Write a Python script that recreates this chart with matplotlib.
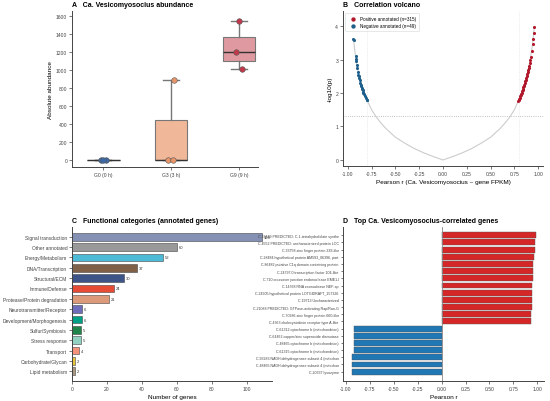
import matplotlib
matplotlib.use("Agg")
import matplotlib.pyplot as plt
import numpy as np

plt.rcParams['font.family'] = ['Liberation Sans', 'DejaVu Sans']
plt.rcParams['axes.linewidth'] = 0.7
plt.rcParams['axes.edgecolor'] = '#444444'
plt.rcParams['xtick.major.width'] = 0.5
plt.rcParams['ytick.major.width'] = 0.5
plt.rcParams['xtick.major.size'] = 2
plt.rcParams['ytick.major.size'] = 2
plt.rcParams['xtick.major.pad'] = 1.5
plt.rcParams['ytick.major.pad'] = 1.5
plt.rcParams['xtick.color'] = '#444444'
plt.rcParams['ytick.color'] = '#444444'

# ---- Panel A data: abundance per group
groups = ['G0 (0 h)', 'G3 (3 h)', 'G9 (9 h)']
abund = [[0, 0, 0], [0, 0, 890], [1010, 1200, 1550]]
jitter = [[-0.04, 0.04, 0.0], [-0.05, 0.03, 0.04], [0.05, -0.05, 0.0]]
box_colors = ['#3d6aa6', '#f0b899', '#de9aa0']
pt_colors = ['#3d6aa6', '#e8956a', '#c0394b']

# ---- Panel B data: volcano
curve_r = [-0.94, -0.92, -0.90, -0.85, -0.80, -0.75, -0.70, -0.65, -0.60, -0.50,
           -0.40, -0.30, -0.20, -0.10, 0.0, 0.10, 0.20, 0.30, 0.40, 0.50, 0.60,
           0.65, 0.70, 0.75, 0.80, 0.85, 0.90, 0.92, 0.94, 0.958]
curve_y = [3.60, 3.12, 2.75, 2.12, 1.80, 1.50, 1.28, 1.10, 0.94, 0.68,
           0.50, 0.34, 0.21, 0.10, 0.0, 0.10, 0.21, 0.34, 0.50, 0.68, 0.94,
           1.10, 1.28, 1.50, 1.82, 2.21, 2.75, 3.08, 3.45, 3.98]
pos_r = [0.79, 0.795, 0.80, 0.805, 0.81, 0.815, 0.82, 0.825, 0.83, 0.835, 0.84,
         0.845, 0.85, 0.855, 0.86, 0.865, 0.87, 0.875, 0.88, 0.885, 0.89, 0.895,
         0.90, 0.905, 0.91, 0.915, 0.92, 0.933, 0.94, 0.945, 0.952, 0.958]
pos_y = [1.75, 1.78, 1.82, 1.86, 1.90, 1.93, 1.97, 2.01, 2.05, 2.09, 2.13,
         2.17, 2.21, 2.25, 2.30, 2.35, 2.40, 2.45, 2.50, 2.56, 2.62, 2.68,
         2.75, 2.82, 2.90, 2.99, 3.08, 3.25, 3.45, 3.62, 3.78, 3.98]
neg_r = [-0.941, -0.938, -0.918, -0.914, -0.91, -0.905, -0.90, -0.895, -0.89,
         -0.885, -0.88, -0.875, -0.87, -0.865, -0.86, -0.855, -0.85, -0.845,
         -0.84, -0.835, -0.83, -0.82, -0.81, -0.80, -0.795]
neg_y = [3.62, 3.58, 3.12, 3.02, 2.95, 2.85, 2.75, 2.62, 2.55, 2.50, 2.45, 2.38,
         2.30, 2.25, 2.20, 2.16, 2.12, 2.08, 2.04, 2.00, 1.97, 1.92, 1.86,
         1.80, 1.78]

# ---- Panel C data: functional categories
categories = ['Signal transduction', 'Other annotated', 'Energy/Metabolism',
              'DNA/Transcription', 'Structural/ECM', 'Immune/Defense',
              'Protease/Protein degradation', 'Neurotransmitter/Receptor',
              'Development/Morphogenesis', 'Sulfur/Symbiosis', 'Stress response',
              'Transport', 'Carbohydrate/Glycan', 'Lipid metabolism']
counts = [109, 60, 52, 37, 30, 24, 21, 6, 6, 5, 5, 4, 2, 2]
cat_colors = ['#8491b4', '#999999', '#4dbbd5', '#7e6148', '#3c5488', '#e64b35',
              '#dc9a7a', '#6d6dbb', '#00a087', '#1e8449', '#91d1c2', '#f4917a',
              '#e8c53a', '#a89882']

# ---- Panel D data: top correlated genes
genes = ['C.19449 PREDICTED: C-1-tetrahydrofolate synthe',
         'C.4552 PREDICTED: uncharacterized protein LOC',
         'C.33758 zinc finger protein 239-like',
         'C.28484 hypothetical protein AM593_06396, part',
         'C.86482 putative C1q domain containing protein',
         'C.24797.0 transcription factor 104-like',
         'C.710 crossover junction endonuclease EME1-l',
         'C.14768 RNA exonuclease NEF-sp',
         'C.24905 hypothetical protein LOTGIDRAFT_157326',
         'C.19713 Uncharacterized',
         'C.21088 PREDICTED: GTPase-activating Rap/Ran-G',
         'C.70286 zinc finger protein 660-like',
         'C.4363 cholecystokinin receptor type A-like',
         'C.61312 cytochrome b (mitochondrion)',
         'C.64462 copper/zinc superoxide dismutase',
         'C.48465 cytochrome b (mitochondrion)',
         'C.61315 cytochrome b (mitochondrion)',
         'C.93283 NADH dehydrogenase subunit 4 (mitochon',
         'C.48465 NADH dehydrogenase subunit 4 (mitochon',
         'C.20337 lysozyme']
gene_r = [0.989, 0.979, 0.971, 0.964, 0.957, 0.954, 0.950, 0.946, 0.946, 0.943,
          0.943, 0.939, 0.939, -0.91, -0.91, -0.91, -0.91, -0.935, -0.935, -0.935]

W, H = 550, 402
fig = plt.figure(figsize=(5.5, 4.02), dpi=100)

def box(l, r, t, b):
    return fig.add_axes([l / W, 1 - b / H, (r - l) / W, (b - t) / H])

title_kw = dict(fontsize=5.0, fontweight='bold', loc='left', pad=3.5)

# ---------- A
axA = box(72, 258, 12, 168)
bp = axA.boxplot(abund, positions=range(3), widths=0.48, patch_artist=True,
                 showfliers=False,
                 whiskerprops=dict(color='#777777', lw=1.0),
                 capprops=dict(color='#777777', lw=1.0),
                 medianprops=dict(color='#333333', lw=1.0),
                 boxprops=dict(edgecolor='#777777', lw=0.8))
for patch, c in zip(bp['boxes'], box_colors):
    patch.set_facecolor(c)
for i, vals in enumerate(abund):
    xs = [i + j for j in jitter[i]]
    axA.scatter(xs, vals, s=16, color=pt_colors[i], edgecolor='#555555',
                lw=0.4, zorder=5)
axA.set_xticks(range(3))
axA.set_xticklabels(groups, fontsize=3.6)
axA.set_yticks(range(0, 1601, 200))
axA.tick_params(axis='y', labelsize=3.6)
axA.set_xlim(-0.46, 2.28)
axA.set_ylim(-78, 1660)
axA.set_ylabel('Absolute abundance', fontsize=4.6, labelpad=2)
axA.set_title('A   Ca. Vesicomyosocius abundance', **title_kw)
for s in ['top', 'right']:
    axA.spines[s].set_visible(False)

# ---------- B
axB = box(343, 543, 12, 167)
axB.plot(curve_r, curve_y, color='#cccccc', lw=0.8, zorder=1)
axB.axhline(1.3, color='#aaaaaa', lw=0.6, ls=':', zorder=0)
axB.axvline(-0.8, color='#dddddd', lw=0.5, ls=':', zorder=0)
axB.axvline(0.8, color='#dddddd', lw=0.5, ls=':', zorder=0)
axB.scatter(pos_r, pos_y, s=5, color='#b2182b', lw=0, zorder=3,
            label='Positive annotated (n=315)')
axB.scatter(neg_r, neg_y, s=5, color='#1f5f8b', lw=0, zorder=3,
            label='Negative annotated (n=49)')
axB.set_xlim(-1.05, 1.05)
axB.set_ylim(-0.18, 4.45)
axB.set_xticks(np.arange(-1.0, 1.01, 0.25))
axB.set_xticklabels(['-1.00', '-0.75', '-0.50', '-0.25', '0.00', '0.25',
                     '0.50', '0.75', '1.00'])
axB.set_yticks(range(5))
axB.tick_params(labelsize=3.6)
axB.set_xlabel('Pearson r (Ca. Vesicomyosocius ~ gene FPKM)', fontsize=4.6,
               labelpad=2)
axB.set_ylabel('-log10(p)', fontsize=4.6, labelpad=2)
axB.set_title('B   Correlation volcano', **title_kw)
leg = axB.legend(loc='upper left', fontsize=3.3, markerscale=1.4,
                 frameon=True, handletextpad=0.6, borderpad=0.6,
                 labelspacing=0.45)
leg.get_frame().set_linewidth(0.4)
leg.get_frame().set_edgecolor('#cccccc')
for s in ['top', 'right']:
    axB.spines[s].set_visible(False)

# ---------- C
axC = box(72, 272, 228, 382)
yc = np.arange(len(categories))
axC.barh(yc, counts, height=0.75, color=cat_colors, edgecolor='#444444',
         lw=0.4)
for y, v in zip(yc, counts):
    axC.text(v + 1, y, str(v), fontsize=3.0, va='center', ha='left',
             color='#333333')
axC.set_yticks(yc)
axC.set_yticklabels(categories, fontsize=3.5)
axC.set_ylim(13.95, -0.95)
axC.set_xlim(0, 114.5)
axC.set_xticks(range(0, 101, 20))
axC.tick_params(axis='x', labelsize=3.6)
axC.set_xlabel('Number of genes', fontsize=4.6, labelpad=2)
axC.set_title('C   Functional categories (annotated genes)', **title_kw)
for s in ['top', 'right']:
    axC.spines[s].set_visible(False)

# ---------- D
axD = box(343, 544, 228, 382)
yd = np.arange(len(genes))
dcol = ['#d62728' if r > 0 else '#1f77b4' for r in gene_r]
axD.barh(yd, gene_r, height=0.82, color=dcol, edgecolor='#555555', lw=0.3)
axD.axvline(0, color='#888888', lw=0.6)
axD.set_yticks(yd)
axD.set_yticklabels(genes, fontsize=2.6)
axD.set_ylim(20.3, -1.15)
axD.set_xlim(-1.03, 1.07)
axD.set_xticks(np.arange(-1.0, 1.01, 0.25))
axD.set_xticklabels(['-1.00', '-0.75', '-0.50', '-0.25', '0.00', '0.25',
                     '0.50', '0.75', '1.00'])
axD.tick_params(axis='x', labelsize=3.6)
axD.tick_params(axis='y', length=1.5)
axD.set_xlabel('Pearson r', fontsize=4.6, labelpad=2)
axD.set_title('D   Top Ca. Vesicomyosocius-correlated genes', **title_kw)
for s in ['top', 'right']:
    axD.spines[s].set_visible(False)

fig.savefig('out.png', dpi=100)
